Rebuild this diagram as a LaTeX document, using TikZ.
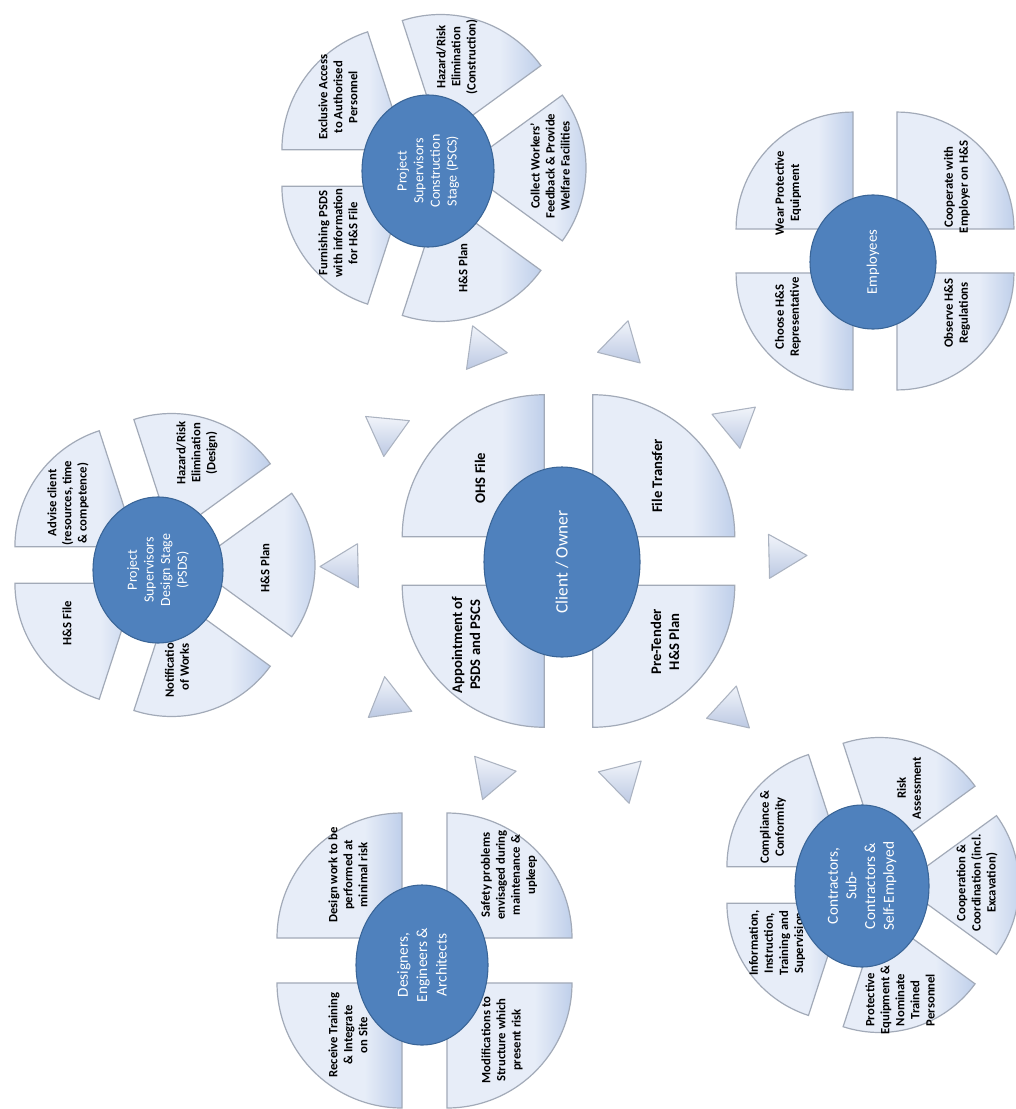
\documentclass[tikz,border=0pt]{standalone}
\usepackage{fontspec}
\setmainfont{Carlito}
\usetikzlibrary{shapes.geometric}
\definecolor{sl}{HTML}{E7EDF8}
\definecolor{sd}{HTML}{BFCFEA}
\definecolor{sline}{HTML}{A2AAB8}
\definecolor{ellf}{HTML}{4F81BD}
\definecolor{elll}{HTML}{3A6597}
\definecolor{tl}{HTML}{F1F4FA}
\definecolor{td}{HTML}{BCC9E3}
\definecolor{tline}{HTML}{ABB3C1}
\pgfdeclarehorizontalshading{sectshade}{100bp}{color(0bp)=(sl); color(25bp)=(sl); color(60bp)=(sl); color(75bp)=(sd); color(100bp)=(sd)}
\begin{document}
\begin{tikzpicture}[x=0.75pt,y=0.75pt,
 sect/.style={draw=sline, line width=0.9pt, shade, shading=sectshade},
 hub/.style={ellipse, draw=elll, line width=0.8pt, fill=ellf, text=white, rotate=90, align=center, inner sep=0pt},
 lbl/.style={rotate=90, align=center, font=\bfseries\fontsize{9.5}{11.3}\selectfont, inner sep=0pt},
 biglbl/.style={rotate=90, align=center, font=\bfseries\fontsize{11}{13.4}\selectfont, inner sep=0pt},
 tri/.style={draw=tline, line width=0.8pt, line join=round, top color=tl, bottom color=td}]

\useasboundingbox (0,0) rectangle (1016,-1109);
\fill[white] (0,0) rectangle (1016,-1109);

% ---------- sectors ----------
% central cluster (quarters)
\begin{scope}[shift={(568.5,-561)}]
 \foreach \b in {45,135,225,315}
  \path[sect] (\b:34.3) -- ++({\b-45}:142) arc[start angle={\b-45}, end angle={\b+45}, radius=142] -- cycle;
\end{scope}
% employees (quarters)
\begin{scope}[shift={(875,-251)}]
 \foreach \b in {45,135,225,315}
  \path[sect] (\b:31) -- ++({\b-45}:117) arc[start angle={\b-45}, end angle={\b+45}, radius=117] -- cycle;
\end{scope}
% designers (quarters)
\begin{scope}[shift={(424.5,-960.5)}]
 \foreach \b in {45,135,225,315}
  \path[sect] (\b:31.8) -- ++({\b-45}:125) arc[start angle={\b-45}, end angle={\b+45}, radius=125] -- cycle;
\end{scope}
% PSCS (five)
\begin{scope}[shift={(431,-168)}]
 \foreach \b in {0,72,144,216,288}
  \path[sect] (\b:31) -- ++({\b-36}:124) arc[start angle={\b-36}, end angle={\b+36}, radius=124] -- cycle;
\end{scope}
% PSDS (five)
\begin{scope}[shift={(162,-565)}]
 \foreach \b in {0,72,144,216,288}
  \path[sect] (\b:31) -- ++({\b-36}:122) arc[start angle={\b-36}, end angle={\b+36}, radius=122] -- cycle;
\end{scope}
% Contractors (five)
\begin{scope}[shift={(870,-885)}]
 \foreach \b in {0,72,144,216,288}
  \path[sect] (\b:31) -- ++({\b-36}:118) arc[start angle={\b-36}, end angle={\b+36}, radius=118] -- cycle;
\end{scope}

% ---------- triangles ----------
\foreach \px/\py in {482/349, 622/345, 736/423, 782/556, 731/711, 623/779, 491/776, 388/702, 345/566, 386/431}{
 \pgfmathsetmacro\ang{atan2(561-\py,\px-568)}
 \begin{scope}[shift={(\px,-\py)}, rotate=\ang]
  \path[tri] (25,0) -- (-13,22) -- (-13,-22) -- cycle;
 \end{scope}
}

% ---------- labels ----------
\node[biglbl] (ohs) at (480,-478) {OHS File};
\node[biglbl] (ft) at (657,-476) {File Transfer};
\node[biglbl] (appt) at (466,-645) {Appointment of\\PSDS and PSCS};
\node[biglbl] (pretender) at (665,-642) {Pre-Tender\\H\&S Plan};

\node[lbl] (excl) at (338,-97) {Exclusive Access\\to Authorised\\Personnel};
\node[lbl] (furn) at (338,-233) {Furnishing PSDS\\with information\\for H\&S File};
\node[lbl] (cplan) at (463,-268) {H\&S Plan};
\node[lbl] (collect) at (550,-166) {Collect Workers'\\Feedback \& Provide\\Welfare Facilities};
\node[lbl] (chaz) at (457,-57) {Hazard/Risk\\Elimination\\(Construction)};

\node[lbl] (wear) at (788,-193) {Wear Protective\\Equipment};
\node[lbl] (choose) at (788,-317) {Choose H\&S\\Representative};
\node[lbl] (coop) at (957,-187) {Cooperate with\\Employer on H\&S};
\node[lbl] (observe) at (957,-313) {Observe H\&S\\Regulations};

\node[lbl] (compl) at (773,-827) {Compliance \&\\Conformity};
\node[lbl] (info) at (777,-943) {Information,\\Instruction,\\Training and\\Supervision};
\node[lbl] (prot) at (900,-1000) {Protective\\Equipment \&\\Nominate\\Trained\\Personnel};
\node[lbl] (coord) at (977,-883) {Cooperation \&\\Coordination (incl.\\Excavation)};
\node[lbl] (risk) at (909,-788) {Risk\\Assessment};

\node[lbl] (design) at (348,-875) {Design work to be\\performed at\\minimal risk};
\node[lbl] (receive) at (348,-1035) {Receive Training\\\& Integrate\\on Site};
\node[lbl] (safety) at (509,-875) {Safety problems\\envisaged during\\maintenance \&\\upkeep};
\node[lbl] (modif) at (502,-1040) {Modifications to\\Structure which\\present risk};

\node[lbl] (advise) at (68,-503) {Advise client\\(resources, time\\\& competence)};
\node[lbl] (dfile) at (67,-623) {H\&S File};
\node[lbl] (notif) at (177,-667) {Notification\\of Works};
\node[lbl] (dplan) at (265,-568) {H\&S Plan};
\node[lbl] (dhaz) at (197,-453) {Hazard/Risk\\Elimination\\(Design)};

% ---------- hubs ----------
\node[hub, minimum width=142.5pt, minimum height=117pt, font=\fontsize{13}{15}\selectfont] (client) at (562,-562) {Client / Owner};
\node[hub, minimum width=114pt, minimum height=99pt, font=\fontsize{10.5}{12.5}\selectfont] (pscs) at (428,-171) {Project\\Supervisors\\Construction\\Stage (PSCS)};
\node[hub, minimum width=100.5pt, minimum height=94.5pt, font=\fontsize{11}{13}\selectfont] (empl) at (873,-262) {Employees};
\node[hub, minimum width=121.5pt, minimum height=100.5pt, font=\fontsize{11.5}{14}\selectfont] (contr) at (862,-886) {Contractors,\\Sub-\\Contractors \&\\Self-Employed};
\node[hub, minimum width=120pt, minimum height=99pt, font=\fontsize{11.5}{14.5}\selectfont] (desig) at (422,-965) {Designers,\\Engineers \&\\Architects};
\node[hub, minimum width=109.5pt, minimum height=97.5pt, font=\fontsize{10.5}{12.5}\selectfont] (psds) at (158,-570) {Project\\Supervisors\\Design Stage\\(PSDS)};
\end{tikzpicture}
\end{document}
